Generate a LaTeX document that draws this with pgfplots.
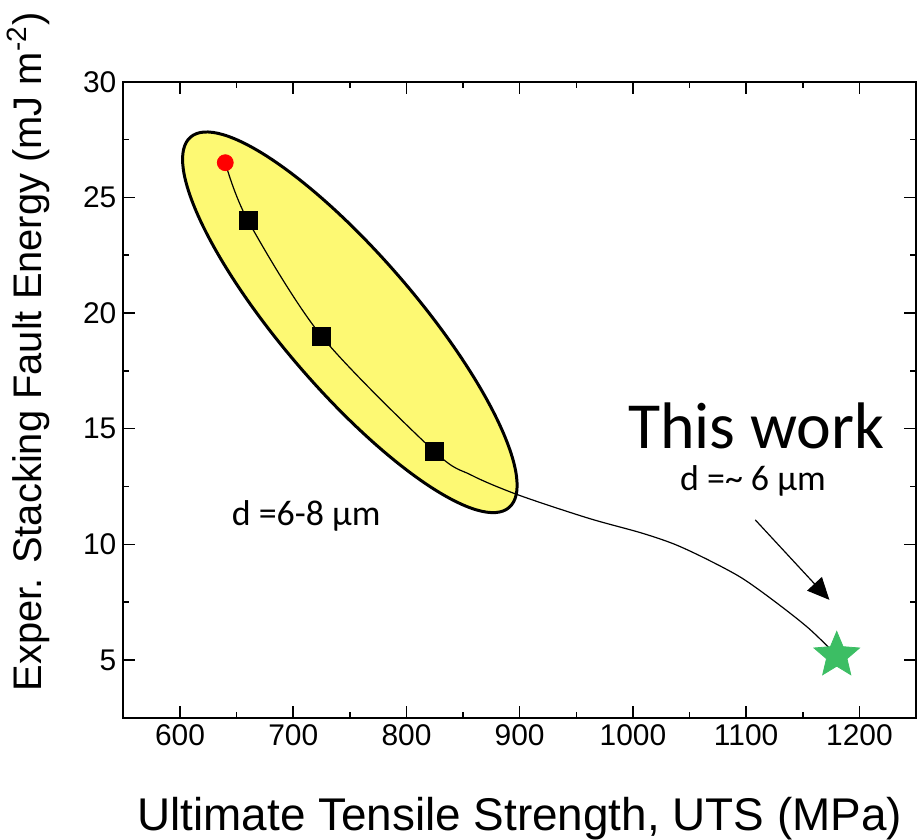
\documentclass[border=0pt]{standalone}
\usepackage{fontspec}
\setmainfont{Liberation Sans}
\newfontfamily\calibri{Carlito}
\usepackage{pgfplots}
\pgfplotsset{compat=1.18}
\usetikzlibrary{arrows.meta}
\definecolor{ellyellow}{RGB}{253,249,115}
\definecolor{stargreen}{RGB}{60,190,100}
\pgfdeclareplotmark{fstar}{%
  \pgfpathmoveto{\pgfpointpolar{90}{\pgfplotmarksize}}%
  \pgfpathlineto{\pgfpointpolar{126}{0.45\pgfplotmarksize}}%
  \pgfpathlineto{\pgfpointpolar{162}{\pgfplotmarksize}}%
  \pgfpathlineto{\pgfpointpolar{198}{0.45\pgfplotmarksize}}%
  \pgfpathlineto{\pgfpointpolar{234}{\pgfplotmarksize}}%
  \pgfpathlineto{\pgfpointpolar{270}{0.45\pgfplotmarksize}}%
  \pgfpathlineto{\pgfpointpolar{306}{\pgfplotmarksize}}%
  \pgfpathlineto{\pgfpointpolar{342}{0.45\pgfplotmarksize}}%
  \pgfpathlineto{\pgfpointpolar{18}{\pgfplotmarksize}}%
  \pgfpathlineto{\pgfpointpolar{54}{0.45\pgfplotmarksize}}%
  \pgfpathclose
  \pgfusepathqfillstroke
}
\begin{document}
\begin{tikzpicture}
\begin{axis}[
  width=397.5pt, height=319pt, scale only axis,
  xmin=550, xmax=1250, ymin=2.5, ymax=30,
  xtick={600,700,...,1200}, ytick={5,10,...,30},
  minor x tick num=1, minor y tick num=1,
  tick align=inside, major tick length=6pt, minor tick length=3pt,
  axis line style={line width=1pt},
  every tick/.style={black, line width=0.8pt},
  ticklabel style={font=\fontsize{15}{18}\selectfont},
  /pgf/number format/assume math mode=true,
  /pgf/number format/1000 sep={},
  xlabel={Ultimate Tensile Strength, UTS (MPa)},
  ylabel={Exper. Stacking Fault Energy (mJ m\textsuperscript{-2})},
  xlabel style={font=\fontsize{23}{27}\selectfont, inner sep=0pt, at={(ticklabel cs:0.5,22pt)}},
  ylabel style={font=\fontsize{20}{24}\selectfont, at={(ticklabel cs:0.575,10pt)}},
  clip=false,
]
\draw[line width=1.5pt, fill=ellyellow] (axis cs:750,19.6) ellipse[x radius=122.5pt, y radius=33.7pt, rotate=-49.3];
\addplot[black, line width=0.6pt, smooth, no marks] coordinates {
  (640,26.5) (660,24) (725,19) (825,14) (857,13.0) (898,12.15) (960,11.14) (1007,10.5) (1037,10.0) (1066,9.34) (1096,8.55) (1125,7.54) (1155,6.38) (1180,5.2)
};
\addplot[only marks, mark=square*, mark size=4.5pt, black] coordinates {
  (660,24) (725,19) (825,14)
};
\addplot[only marks, mark=*, mark size=4pt, red] coordinates {(640,26.5)};
\addplot[only marks, mark=fstar, mark size=12pt, stargreen] coordinates {(1180,5.2)};
\draw[-{Triangle[length=11pt, width=10pt]}, line width=0.6pt] (axis cs:1108,11.06) -- (axis cs:1173.5,7.6);
\node[font=\calibri\fontsize{33}{36}\selectfont] at (axis cs:1109,15.12) {This work};
\node[font=\calibri\fontsize{18}{20}\selectfont] at (axis cs:1106,12.74) {d =\textasciitilde\ 6 µm};
\node[font=\calibri\fontsize{18}{20}\selectfont] at (axis cs:711.5,11.23) {d =6-8 µm};
\end{axis}
\path ([yshift=3pt]current bounding box.north) circle (0pt);
\end{tikzpicture}
\end{document}
